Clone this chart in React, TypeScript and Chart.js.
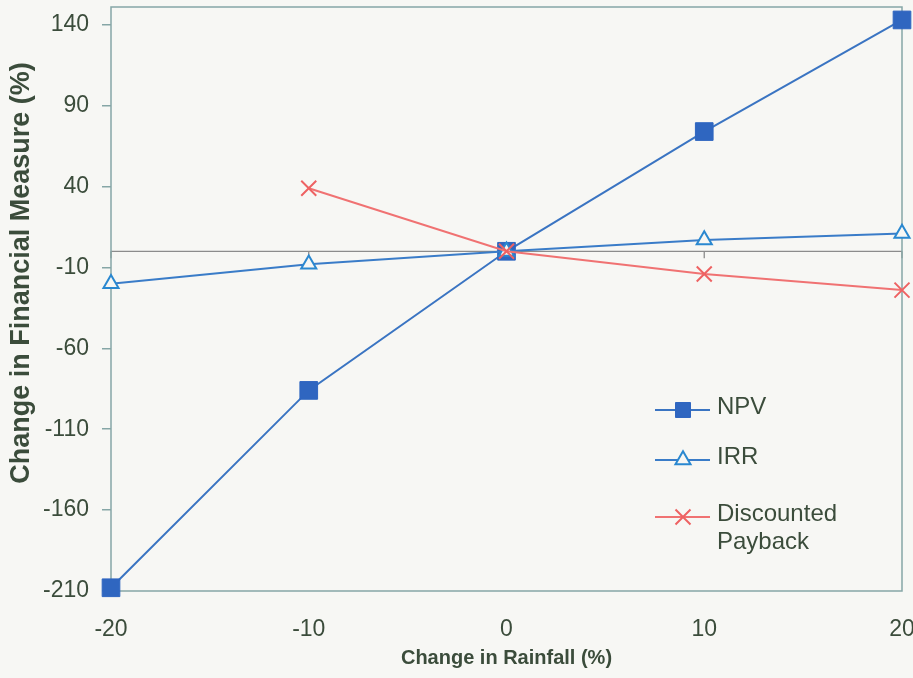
import React, { useEffect, useRef } from "react";
import { Chart, registerables } from "chart.js";
import { drawPoint } from "chart.js/helpers";

Chart.register(...registerables);

// ---- data ----
const rainfallChange = [-20, -10, 0, 10, 20];
const npvValues = [-208, -86, 0, 74, 143];
const irrValues = [-20, -8, 0, 7, 11];
const paybackValues: (number | null)[] = [null, 39, 0, -14, -24];
const seriesNames = ["NPV", "IRR", "Discounted Payback"];
const yTickValues = [-210, -160, -110, -60, -10, 40, 90, 140];
const xTickValues = [-20, -10, 0, 10, 20];
const xTitle = "Change in Rainfall (%)";
const yTitle = "Change in Financial Measure (%)";

// ---- styles ----
const FONT = "'Liberation Sans', Arial, sans-serif";
const TEXT = "#3b4c3b";
const FRAME = "#86a6a6";
const ZERO = "#8c8c8c";
const BG = "#f7f7f4";

const toPoints = (vals: (number | null)[]) =>
  rainfallChange.map((x, i) => ({ x, y: vals[i] }));

const frameAndZero = {
  id: "frameAndZero",
  beforeDatasetsDraw(chart: any) {
    const { ctx, chartArea: a, scales } = chart;
    const y0 = scales.y.getPixelForValue(0);
    ctx.save();
    ctx.strokeStyle = ZERO;
    ctx.lineWidth = 1.3;
    ctx.beginPath();
    ctx.moveTo(a.left, y0);
    ctx.lineTo(a.right, y0);
    scales.x.ticks.forEach((t: any) => {
      const px = scales.x.getPixelForValue(t.value);
      ctx.moveTo(px, y0);
      ctx.lineTo(px, y0 + 7);
    });
    ctx.stroke();
    ctx.strokeStyle = FRAME;
    ctx.lineWidth = 1.5;
    ctx.strokeRect(a.left, a.top, a.right - a.left, a.bottom - a.top);
    ctx.restore();
  },
};

const yTitlePlugin = {
  id: "yTitlePlugin",
  afterDraw(chart: any) {
    const { ctx } = chart;
    ctx.save();
    ctx.translate(22, 273);
    ctx.rotate(-Math.PI / 2);
    ctx.font = `bold 27px ${FONT}`;
    ctx.fillStyle = TEXT;
    ctx.textAlign = "center";
    ctx.textBaseline = "middle";
    ctx.fillText(yTitle, 0, 0);
    ctx.restore();
  },
};

const legendPlugin = {
  id: "insideLegend",
  afterDatasetsDraw(chart: any) {
    const { ctx } = chart;
    const rows = [410, 460, 517];
    const radii = [10.6, 8.7, 10.6];
    ctx.save();
    chart.data.datasets.forEach((ds: any, i: number) => {
      const y = rows[i];
      ctx.strokeStyle = ds.borderColor;
      ctx.lineWidth = 2;
      ctx.beginPath();
      ctx.moveTo(655, y);
      ctx.lineTo(710, y);
      ctx.stroke();
      ctx.fillStyle = ds.pointBackgroundColor;
      ctx.strokeStyle = ds.pointBorderColor;
      ctx.lineWidth = ds.pointBorderWidth;
      drawPoint(ctx, { pointStyle: ds.pointStyle, radius: radii[i], rotation: 0, borderWidth: ds.pointBorderWidth }, 683, y);
      ctx.fillStyle = TEXT;
      ctx.font = `24px ${FONT}`;
      ctx.textAlign = "left";
      ctx.textBaseline = "middle";
      const words = String(ds.label).split(" ");
      words.forEach((w: string, k: number) => ctx.fillText(w, 717, y - 3 + k * 28));
    });
    ctx.restore();
  },
};

export default function App() {
  const ref = useRef<HTMLCanvasElement>(null);
  useEffect(() => {
    if (!ref.current) return;
    const chart = new Chart(ref.current, {
      type: "line",
      data: {
        datasets: [
          {
            label: seriesNames[0],
            data: toPoints(npvValues),
            borderColor: "#3a74c2",
            borderWidth: 2,
            pointStyle: "rect",
            pointRadius: 12.5,
            pointBackgroundColor: "#2f66c0",
            pointBorderColor: "#2f66c0",
            pointBorderWidth: 1,
            clip: false,
            order: 3,
          },
          {
            label: seriesNames[1],
            data: toPoints(irrValues),
            borderColor: "#3a7cc8",
            borderWidth: 2,
            pointStyle: "triangle",
            pointRadius: 8.7,
            pointBackgroundColor: BG,
            pointBorderColor: "#2a88d0",
            pointBorderWidth: 2,
            clip: false,
            order: 2,
          },
          {
            label: seriesNames[2],
            data: toPoints(paybackValues),
            borderColor: "#f07272",
            borderWidth: 2,
            pointStyle: "crossRot",
            pointRadius: 10.6,
            pointBackgroundColor: "#ee6262",
            pointBorderColor: "#ee6262",
            pointBorderWidth: 2,
            clip: false,
            order: 1,
          },
        ] as any,
      },
      options: {
        responsive: false,
        animation: false,
        layout: { autoPadding: false, padding: { left: 0, right: 11, top: 7, bottom: 0 } },
        plugins: {
          legend: { display: false },
          tooltip: { enabled: false },
        },
        scales: {
          x: {
            type: "linear",
            min: -20,
            max: 20,
            afterBuildTicks: (s: any) => {
              s.ticks = xTickValues.map((v) => ({ value: v }));
            },
            afterFit: (s: any) => {
              s.height = 87;
              s.paddingLeft = 0;
              s.paddingRight = 0;
            },
            grid: { display: false, drawTicks: false },
            border: { display: false },
            ticks: { padding: 25, color: TEXT, font: { family: FONT, size: 23 }, maxRotation: 0 },
            title: {
              display: true,
              text: xTitle,
              color: TEXT,
              font: { family: FONT, size: 20, weight: "bold" },
              padding: { top: 0, bottom: 8 },
            },
          },
          y: {
            type: "linear",
            min: -210,
            max: 151,
            afterBuildTicks: (s: any) => {
              s.ticks = yTickValues.map((v) => ({ value: v }));
            },
            afterFit: (s: any) => {
              s.width = 111;
              s.paddingTop = 0;
              s.paddingBottom = 0;
            },
            grid: {
              drawOnChartArea: false,
              drawTicks: true,
              tickLength: 9,
              color: FRAME,
              tickColor: FRAME,
              lineWidth: 1.5,
            },
            border: { display: false },
            ticks: { padding: 13, color: TEXT, font: { family: FONT, size: 23 } },
            title: { display: false },
          },
        },
      } as any,
      plugins: [frameAndZero, legendPlugin, yTitlePlugin],
    });
    return () => chart.destroy();
  }, []);
  return (
    <div style={{ position: "absolute", left: 0, top: 0, width: 913, height: 678, background: BG }}>
      <canvas ref={ref} width={913} height={678} style={{ width: 913, height: 678, display: "block" }} />
    </div>
  );
}
